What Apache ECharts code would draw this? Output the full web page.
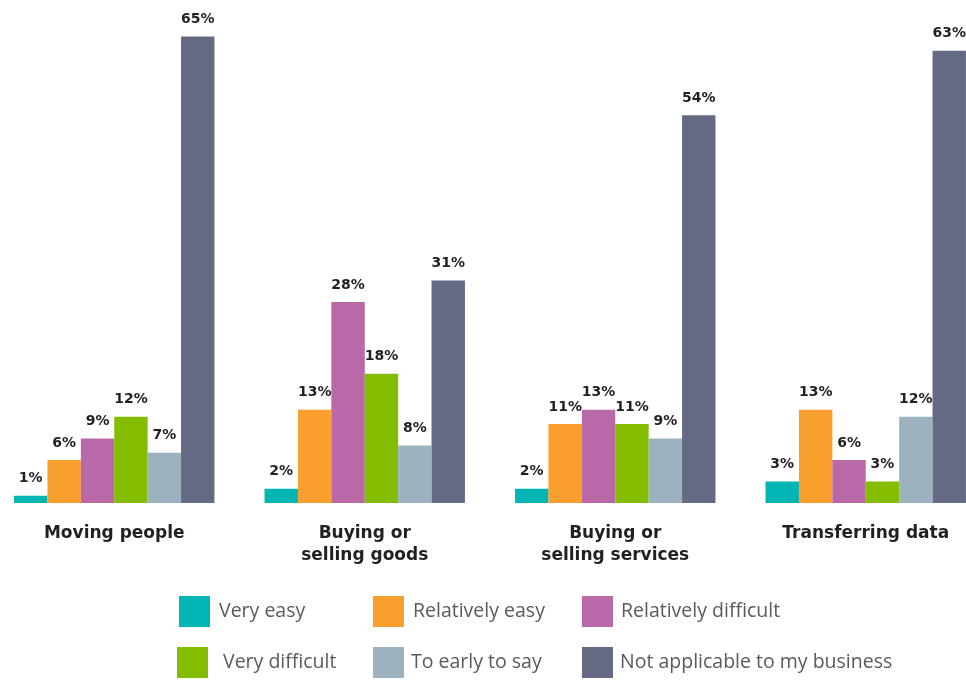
<!DOCTYPE html>
<html>
<head>
<meta charset="utf-8">
<script src="https://cdn.jsdelivr.net/npm/echarts@6/dist/echarts.min.js"></script>
<style>
  html, body { margin: 0; padding: 0; background: #fff; }
  #main { width: 966px; height: 680px; }
</style>
</head>
<body>
<div id="main"></div>
<script>
// categories and series values
var categories = ['Moving people', 'Buying or\nselling goods', 'Buying or\nselling services', 'Transferring data'];
var seriesNames = ['Very easy', 'Relatively easy', 'Relatively difficult', 'Very difficult', 'To early to say', 'Not applicable to my business'];
var veryEasy = [1, 2, 2, 3];
var relativelyEasy = [6, 13, 11, 13];
var relativelyDifficult = [9, 28, 13, 6];
var veryDifficult = [12, 18, 11, 3];
var tooEarly = [7, 8, 9, 12];
var notApplicable = [65, 31, 54, 63];

var colors = ['#00b5b3', '#f99f2e', '#b968a8', '#84bd00', '#9cb2bf', '#646a84'];
var allValues = [veryEasy, relativelyEasy, relativelyDifficult, veryDifficult, tooEarly, notApplicable];

var chart = echarts.init(document.getElementById('main'));

// legend positions: two rows, three columns (icon left, icon top, text gap)
var legendPos = [
    [179, 596, 4], [373, 596, 4], [582, 596, 3],
    [177, 647, 10], [373, 647, 2], [582, 647, 2]
];

var legends = [];
for (var i = 0; i < seriesNames.length; i++) {
    legends.push({
        data: [seriesNames[i]],
        left: legendPos[i][0],
        top: legendPos[i][1],
        padding: 0,
        itemWidth: 31,
        itemHeight: 31,
        icon: 'rect',
        selectedMode: false,
        textStyle: {
            fontFamily: 'Open Sans',
            fontSize: 19.5,
            color: '#5a5a5a',
            padding: [0, 0, 0, legendPos[i][2]]
        }
    });
}

var series = [];
for (var j = 0; j < seriesNames.length; j++) {
    series.push({
        name: seriesNames[j],
        type: 'bar',
        data: allValues[j],
        barWidth: 33.4,
        barGap: '0%',
        itemStyle: { color: colors[j] },
        label: {
            show: true,
            position: 'top',
            distance: 10,
            formatter: '{c}%',
            fontFamily: 'DejaVu Sans',
            fontWeight: 'bold',
            fontSize: 14,
            color: '#231f20'
        }
    });
}

chart.setOption({
    animation: false,
    color: colors,
    legend: legends,
    grid: {
        left: -11,
        width: 1002,
        top: 0.5,
        height: 502.5,
        outerBoundsMode: 'none'
    },
    xAxis: {
        type: 'category',
        data: categories,
        axisLine: { show: false },
        axisTick: { show: false },
        axisLabel: {
            margin: 20,
            fontFamily: 'DejaVu Sans',
            fontWeight: 'bold',
            fontSize: 17,
            lineHeight: 22,
            color: '#231f20'
        }
    },
    yAxis: {
        type: 'value',
        min: 0,
        max: 70,
        show: false,
        splitLine: { show: false }
    },
    series: series
});
</script>
</body>
</html>
